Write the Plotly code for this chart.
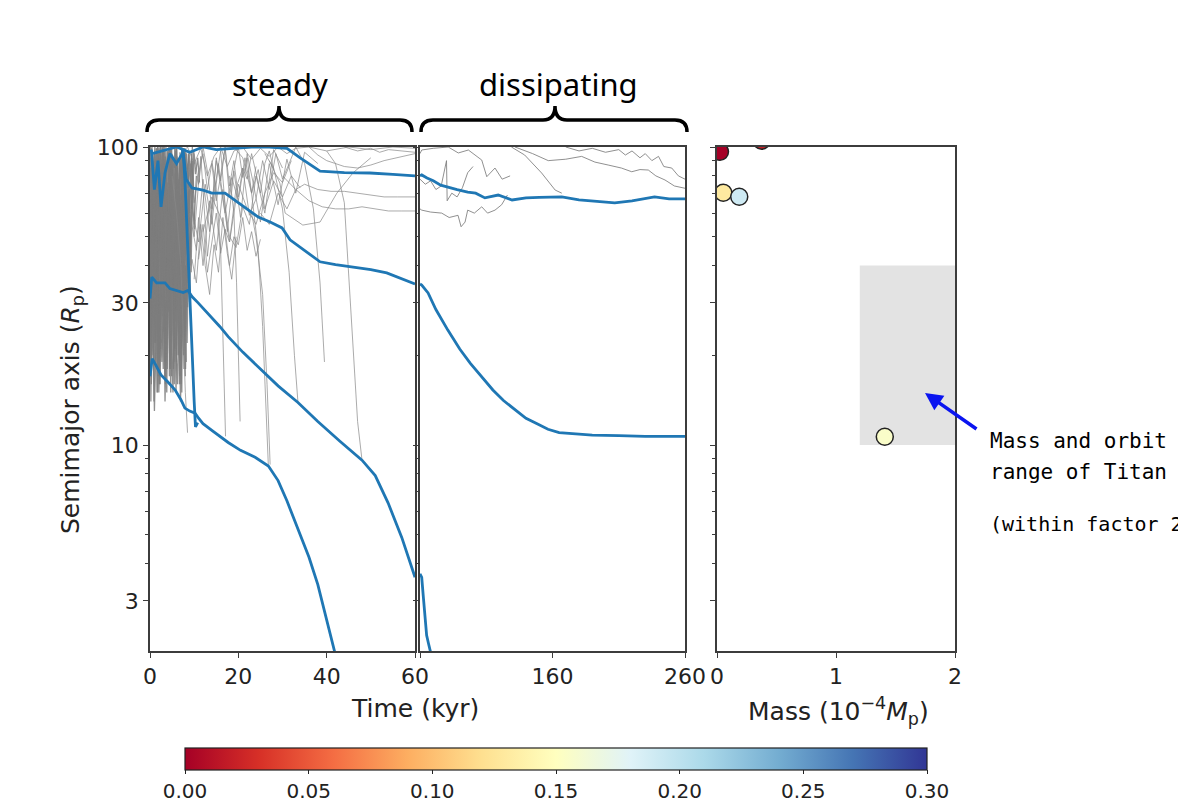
import plotly.graph_objects as go

W, H = 1186, 802
OFF = 8                      # page body margin of the browser
FW, FH = W - OFF, H - OFF    # figure size so that it ends at the window edge

# ---------------- data ----------------
# gray "other satellites" trajectories, steady phase (time kyr, semimajor axis Rp)
SP1_T = [0.0,0.4,0.8,1.1,1.5,1.9,2.2,2.6,3.0,3.3,3.7,4.1,4.4,4.8,5.2,5.5,5.9,6.3,6.6,7.0,7.4,7.7,8.1,8.5,8.8,9.2]
SP1_A = [92,38,85,22,74,17,96,31,66,19,88,44,98,23,61,16,79,36,91,27,57,18,83,41,72,25]
SP2_T = [0.1,0.5,0.9,1.3,1.6,2.0,2.4,2.8,3.1,3.5,3.9,4.3,4.6,5.0,5.4,5.8,6.1,6.5,6.9,7.3,7.6,8.0,8.4,8.8,9.1,9.5]
SP2_A = [55,97,28,81,42,99,21,70,35,93,18,64,48,95,26,87,20,73,39,99,30,68,22,58,47,84]
SP3_T = [0.2,0.6,1.0,1.4,1.7,2.1,2.5,2.9,3.2,3.6,4.0,4.4,4.7,5.1,5.5,5.9,6.2,6.6,7.0,7.4,7.8,8.1,8.5,8.9,9.3,9.7,10.1]
SP3_A = [24,77,46,99,15,62,88,27,100,34,71,17,89,52,24,97,33,64,16,86,45,96,29,75,38,90,53]
SP4_T = [0.0,0.3,0.7,1.0,1.4,1.8,2.1,2.5,2.8,3.2,3.6,3.9,4.3,4.7,5.0,5.4,5.7,6.1,6.5,6.8,7.2,7.5,7.9]
SP4_A = [70,19,94,52,25,83,16,58,99,40,21,76,30,99,43,19,68,92,24,54,15,80,35]
SP5_T = [0.1,0.4,0.7,1.1,1.5,1.8,2.3,2.7,3.0,3.4,3.8,4.2,4.5,4.9,5.3,5.6,6.0,6.4,6.7,7.1,7.5,7.9,8.3,8.6,9.0,9.4,9.8]
SP5_A = [100,60,20,90,33,75,47,100,24,80,56,28,94,37,72,21,99,45,85,29,65,99,50,88,60,95,70]
SP6_T = [0.0,0.5,0.9,1.2,1.7,2.0,2.5,2.9,3.4,3.8,4.1,4.6,5.0,5.3,5.8,6.2,6.5,7.0,7.3,7.8,8.2,8.7,9.0,9.5,10.0,10.5]
SP6_A = [30,66,14,48,100,20,42,86,17,52,96,25,61,18,47,82,20,59,97,23,48,71,40,66,55,80]
SP7_T = [0.0,0.2,0.5,0.8,1.2,1.6,2.0,2.3,2.7,3.1,3.4,3.8,4.2,4.6,4.9,5.3,5.7,6.0,6.4,6.8,7.1,7.5,7.9,8.2,8.6,9.0]
SP7_A = [45,14,36,68,22,55,30,16,44,78,28,15,50,34,17,41,66,19,38,84,21,43,62,30,52,72]
SP8_T = [0.3,0.7,1.1,1.5,1.9,2.3,2.7,3.1,3.5,3.9,4.3,4.7,5.1,5.5,5.9,6.3,6.7,7.1,7.5,7.9,8.3,8.7,9.1,9.5,9.9,10.3,10.8,11.2]
SP8_A = [99,82,100,65,91,100,77,97,60,90,100,70,94,85,100,58,92,78,99,66,95,73,88,62,97,81,92,76]
SP9_T = [0.1,0.3,0.6,0.9,1.3,1.6,1.9,2.3,2.6,3.0,3.3,3.6,4.0,4.3,4.7,5.0,5.4,5.7,6.1,6.4,6.8,7.1,7.5,7.8,8.2]
SP9_A = [62,20,45,90,35,15,58,82,40,18,68,100,32,55,15,84,47,26,93,61,17,44,90,52,19]
SP10_T = [0.0,0.35,0.7,1.05,1.4,1.75,2.1,2.45,2.8,3.15,3.5,3.85,4.2,4.55,4.9,5.25,5.6,5.95,6.3,6.65,7.0,7.35,7.7,8.05,8.4,8.75]
SP10_A = [18,50,26,95,60,30,17,74,44,100,55,23,81,18,66,38,100,28,51,16,69,34,88,18,46,95]
SP11_T = [0.2,0.5,0.8,1.2,1.5,1.8,2.2,2.5,2.9,3.2,3.5,3.9,4.2,4.5,4.9,5.2,5.5,5.9,6.2,6.5,6.9,7.2,7.6,7.9,8.3,8.6,9.0]
SP11_A = [85,27,63,19,40,100,58,22,93,50,16,39,73,26,100,62,30,15,57,78,33,100,41,24,67,35,58]
SP12_T = [0.0,0.4,0.8,1.2,1.6,2.0,2.4,2.8,3.2,3.6,4.0,4.4,4.8,5.2,5.6,6.0,6.4,6.8,7.2,7.6,8.0,8.4]
SP12_A = [40,88,55,32,70,45,100,29,56,76,38,60,22,90,48,71,35,96,58,20,75,42]
SP13_T = [0.1,0.45,0.8,1.15,1.5,1.85,2.2,2.55,2.9,3.25,3.6,3.95,4.3,4.65,5.0,5.35,5.7,6.05,6.4,6.75,7.1,7.45,7.8,8.15,8.5,8.85,9.2,9.6]
SP13_A = [76,100,64,85,99,70,92,58,100,81,66,97,75,100,62,88,72,100,57,93,80,64,99,70,85,96,77,100]
SP14_T = [0.3,0.6,1.0,1.3,1.7,2.0,2.4,2.7,3.1,3.4,3.8,4.1,4.5,4.8,5.2,5.5,5.9,6.2,6.6,6.9,7.3,7.6,8.0]
SP14_A = [16,28,13,22,36,15,25,19,33,14,27,42,18,24,15,31,21,16,26,14,23,35,17]

MA_T = [8,9.5,11,12.5,14,15.5,17,18.5,20,21.5,23,24.5,26,28,30,32,34]
MA_A = [40,62,48,75,55,88,60,79,66,92,70,84,62,77,68,80,73]
MB_T = [9,10,11.5,13,14.5,16,17.5,19,20.5,22,23.5,25,27,29,31,33,35,38]
MB_A = [85,50,93,43,70,97,52,83,58,95,74,56,88,64,91,70,96,88]
MC_T = [10,11,12,13.5,15,16.5,18,19.5,21,22.5,24,26,28,30]
MC_A = [36,58,40,66,45,72,50,46,63,55,80,60,98,85]
MD_T = [7,8.5,10,11.5,13,14.5,16,17.5,19,21,23,25,27,29,31,33,36,40,45,50,55,60]
MD_A = [95,100,88,99,80,93,100,86,97,100,91,99,93,100,95,99,100,97,100,98,100,99]
ME_T = [11,12,13,14,15,16,17,18,19,20,21,22,23,24,25]
ME_A = [42,55,38,48,60,44,53,40,50,47,58,45,52,43,49]
MF_T = [25,27,29,31,33,35,38,41,44,47,50,53,56,60]
MF_A = [60,55,70,62,72,75,72,71,71,70,69,68,68,68]
MG_T = [30,33,36,39,42,45,48,51,54,57,60]
MG_A = [80,72,66,63,62,62,63,62,61,61,61]
MH_T = [27,29.4,30.6,34.6,38.5,42.3,46,50]
MH_A = [90,75.7,60,54.7,56,70,82,92]
MI_T = [36,38,40,42,44,47,50,53,56,60]
MI_A = [100,94,90,88,86,85,87,90,92,95]
MJ_T = [44,47,50,52,54,57,60]
MJ_A = [100,97,99,96,98,97,96]
MK_T = [8,9,10,11,12,13,14,15,16,17,18,19,20,21,22,23,24,25,26,27,28]
MK_A = [70,90,65,82,95,72,88,66,80,100,74,90,68,85,78,95,82,70,88,97,84]
ML_T = [9,10.5,12,13.5,15,16.5,18,19.5,21,22.5,24,25.5,27,28.5,30,31.5,33]
ML_A = [60,45,78,52,92,66,48,73,85,59,67,90,72,95,78,88,100]
MM_T = [10,11,12,13,14,15,16,17,18,19,20,21,22,23,24]
MM_A = [95,75,100,83,62,90,77,99,68,84,100,79,92,70,86]
MN_T = [12,14,16,18,20,22,24,26,28,30,32]
MN_A = [52,68,58,48,75,62,55,70,82,76,90]
MO_T = [8.5,9.5,10.5,11.5,12.5,13.5,14.5,15.5,16.5,17.5,18.5,19.5]
MO_A = [30,42,35,55,40,32,47,38,58,44,36,50]

DA_T = [14,15,16,16.8,17.1]
DA_A = [90,72,45,18,10.7]
DB_T = [19,21,23,24.5,25.5,26.3,26.8]
DB_A = [100,92,70,45,25,13,8.5]
DC_T = [23,24,25.5,26.5,27.2]
DC_A = [60,50,32,16,8.6]
DD_T = [26,28,30,31.5,32.7,33.5]
DD_A = [95,85,62,38,20,13.9]
DE_T = [33,35,37,38.5,39.5]
DE_A = [100,88,62,35,19]
DF_T = [40,42,44,45.7,47,48]
DF_A = [97,88,65,24,12,8.9]
DG_T = [5,6,7,7.5,8,8.5]
DG_A = [80,60,40,25,15,11]
DH_T = [18,19,19.6,20,20.4]
DH_A = [80,60,35,20,12]

# gray trajectories, dissipating phase
P2A_T = [60,61.3,68,76.4,82,88.7,91,94,96,101,106.6,111,116.6,121.6,126]
P2A_A = [62,61.4,60.5,60,58,59,54,56,61.4,60,63,60,61.4,64,69]
P2B_T = [60,61.3,70,81.3,88.9,96.5,106.6,110.4,116.6,122,128]
P2B_A = [95,97.7,99,100,95.5,97.7,90.4,79.5,85,78,80]
P2C_T = [60,64,68,72,76,80,80.5,84,88,92,96,100]
P2C_A = [78,75,77,72,74,90,66,70,68,73,82,86]
P2D_T = [129,139,151.8,162,167]
P2D_A = [100,94,81.8,71.7,70]
P2E_T = [131.7,145,156.8,170,182,192,202,212,219.8,226,232.3,238,244.9,252,260]
P2E_A = [100,95,90,91,93,89,87,85,82.6,84,83.7,80,77.5,74,72.7]
P2F_T = [170,180,190,200,210,215,220,226,230,235,240,244,250,255,260]
P2F_A = [100,97,99,96,98,94,97,92,95,90,93,86,85,80,78]

# blue trajectories (surviving satellites)
B1_T_STEADY = [0.5,3,6,9,12,15,19,23,27,31,34,38.5,44,49.8,55,60]
B1_A_STEADY = [95,97,100,96,100,98,99,100,100,99,92,83,82,81.8,81,80]
B1_T_DISS = [60,61.3,65.3,70,75.6,82,88,96,102,109,119,129.5,140,150,167,180,195,207,220,237,248,260]
B1_A_DISS = [80,80.6,78.7,77,74.5,73,72,70.6,70,67.5,69,66.4,67.5,67.8,68,66.5,65.5,64.9,66,68,67,67]

B2_T_STEADY = [0.3,1,1.8,2.5,3.4,4.5,6,7.5,8.2,9.5,12,14,17,20,24.5,27.2,29.9,31.7,35,38.5,42,46,50,53.6,57,60]
B2_A_STEADY = [98,72,90,63,82,95,88,96,78,72.9,71.7,70,70,64.9,58.2,56,53.5,48.8,45,41.2,40.3,39.6,38.8,37.8,36,34.7]
B2_T_DISS = [60,61.3,66.1,72,81,90,98,106.8,115,123,131.7,140,148,156.6,165,176.9,190,210,230,260]
B2_A_DISS = [34.7,34.4,32.4,28.5,24.3,21,18.8,16.9,15.3,14.1,13.1,12.3,11.8,11.3,11.0,10.9,10.8,10.75,10.7,10.7]

B3_T_STEADY = [0,0.4,1.5,3.4,4.5,6.3,7.5,8.6,9.5,10.9,12.5,14,15.8,17.7,21,25,29,33.5,38,43,48,51,53.9,57,60]
B3_A_STEADY = [31,36.6,35,35,33.5,33,32.5,33,31.5,30,28.3,26.9,25,23.1,20.5,18,15.8,13.9,12,10.3,8.9,7.9,6.4,4.9,3.6]
B3_T_DISS = [60,61.3,62.5,63.8,65,66.5,68.8]
B3_A_DISS = [3.7,3.6,3.1,2.6,2.3,2.15,1.95]

B4_T_STEADY = [0,0.5,1.1,2.5,4,5.7,7,7.9,9,10.2,11,12,14,17.7,20.5,23.8,26.8,29,31,33.5,36,38,40,41.9,42.5]
B4_A_STEADY = [17,19.5,18.8,17.2,16.3,15.3,14.2,13.3,13,12.8,12.3,11.8,11.2,10.2,9.6,9.1,8.5,7.6,6.5,5.2,4.2,3.4,2.6,2.0,1.9]

B5_T_STEADY = [7.3,7.6,7.9,8.2,8.5,8.8,9.1,9.4,9.7,10.0,10.3,10.8]
B5_A_STEADY = [99,92,78,62,50,40,31,24,18,14,11.5,11.9]

# final satellites (right panel)
MASS = [0.025, 0.375, 0.053, 0.187, 1.41]
ORBIT = [96.4, 105, 70.2, 68.1, 10.66]
ECC = [0.0, 0.02, 0.13, 0.19, 0.155]

TITAN_MASS = [1.2, 2.4]
TITAN_ORBIT = [10, 40]

Y_TICKS = [3, 10, 30, 100]
Y_MINOR = [2, 4, 5, 6, 7, 8, 9, 20, 40, 50, 60, 70, 80, 90]
X1_TICKS = [0, 20, 40, 60]
X2_TICKS = [60, 160, 260]
X2_LABELS = ["", "160", "260"]
X3_TICKS = [0, 1, 2]
CB_TICKS = [0.0, 0.05, 0.10, 0.15, 0.20, 0.25, 0.30]

SPRAY_GRAY = [(SP1_T, SP1_A), (SP2_T, SP2_A), (SP3_T, SP3_A), (SP4_T, SP4_A),
              (SP5_T, SP5_A), (SP6_T, SP6_A), (SP7_T, SP7_A), (SP8_T, SP8_A),
              (SP9_T, SP9_A), (SP10_T, SP10_A), (SP11_T, SP11_A), (SP12_T, SP12_A),
              (SP13_T, SP13_A), (SP14_T, SP14_A)]
STEADY_GRAY = [(MA_T, MA_A), (MB_T, MB_A), (MC_T, MC_A), (MD_T, MD_A), (ME_T, ME_A),
               (MF_T, MF_A), (MG_T, MG_A), (MH_T, MH_A), (MI_T, MI_A), (MJ_T, MJ_A),
               (MK_T, MK_A), (ML_T, ML_A), (MM_T, MM_A), (MN_T, MN_A), (MO_T, MO_A),
               (DA_T, DA_A), (DB_T, DB_A), (DC_T, DC_A), (DD_T, DD_A), (DE_T, DE_A),
               (DF_T, DF_A), (DG_T, DG_A), (DH_T, DH_A)]
DISS_GRAY = [(P2A_T, P2A_A), (P2B_T, P2B_A), (P2C_T, P2C_A), (P2D_T, P2D_A),
             (P2E_T, P2E_A), (P2F_T, P2F_A)]
STEADY_BLUE = [(B1_T_STEADY, B1_A_STEADY), (B2_T_STEADY, B2_A_STEADY),
               (B3_T_STEADY, B3_A_STEADY), (B4_T_STEADY, B4_A_STEADY),
               (B5_T_STEADY, B5_A_STEADY)]
DISS_BLUE = [(B1_T_DISS, B1_A_DISS), (B2_T_DISS, B2_A_DISS), (B3_T_DISS, B3_A_DISS)]

# ---------------- styling helpers ----------------
GRAY = "rgba(125,125,125,0.85)"
GRAY_LIGHT = "rgba(135,135,135,0.7)"
BLUE = "#1f77b4"
AX = "#3c3c3c"
FONT = "DejaVu Sans"
MONO = "DejaVu Sans Mono"
TICK_SIZE = 22
LABEL_SIZE = 25


def px(x):
    """screen pixel x -> paper fraction"""
    return (x - OFF) / FW


def py(y):
    """screen pixel y -> paper fraction"""
    return 1 - (y - OFF) / FH


fig = go.Figure()

for t, a in SPRAY_GRAY:
    fig.add_trace(go.Scatter(x=t, y=a, mode="lines", line=dict(color=GRAY, width=1.3),
                             xaxis="x", yaxis="y", hoverinfo="skip", showlegend=False))
for t, a in STEADY_GRAY:
    fig.add_trace(go.Scatter(x=t, y=a, mode="lines", line=dict(color=GRAY_LIGHT, width=1),
                             xaxis="x", yaxis="y", hoverinfo="skip", showlegend=False))
for t, a in DISS_GRAY:
    fig.add_trace(go.Scatter(x=t, y=a, mode="lines", line=dict(color=GRAY, width=1),
                             xaxis="x2", yaxis="y2", hoverinfo="skip", showlegend=False))
for t, a in STEADY_BLUE:
    fig.add_trace(go.Scatter(x=t, y=a, mode="lines", line=dict(color=BLUE, width=2.8),
                             xaxis="x", yaxis="y", hoverinfo="skip", showlegend=False))
for t, a in DISS_BLUE:
    fig.add_trace(go.Scatter(x=t, y=a, mode="lines", line=dict(color=BLUE, width=2.8),
                             xaxis="x2", yaxis="y2", hoverinfo="skip", showlegend=False))

fig.add_trace(go.Scatter(
    x=MASS, y=ORBIT, mode="markers", xaxis="x3", yaxis="y3", showlegend=False,
    cliponaxis=True,
    marker=dict(size=17, color=ECC, colorscale="RdYlBu", cmin=0, cmax=0.3,
                line=dict(color="#222", width=1.5),
                colorbar=dict(orientation="h", thickness=22, thicknessmode="pixels",
                              len=742 / FW, lenmode="fraction",
                              x=px(556), xanchor="center", y=py(748), yanchor="top",
                              xpad=0, ypad=0, outlinewidth=1.2, outlinecolor="#222",
                              tickvals=CB_TICKS, tickformat=".2f", ticks="outside",
                              ticklen=4, tickcolor="#222",
                              tickfont=dict(family=FONT, size=20, color="#222"))),
))

# Titan range rectangle
fig.add_shape(type="rect", xref="x3", yref="y3", x0=TITAN_MASS[0], x1=TITAN_MASS[1],
              y0=TITAN_ORBIT[0], y1=TITAN_ORBIT[1],
              fillcolor="#e3e3e3", line=dict(width=0), layer="below")

ydom = [py(651), py(147)]
common_axis = dict(showline=True, linecolor=AX, linewidth=1.5, mirror=True,
                   ticks="outside", ticklen=5, tickwidth=1.2, tickcolor=AX,
                   showgrid=False, zeroline=False,
                   tickfont=dict(family=FONT, size=TICK_SIZE, color="#222"))
yax = dict(type="log", range=[0.309, 2.0], domain=ydom, tickvals=Y_TICKS,
           ticktext=[str(v) for v in Y_TICKS],
           minor=dict(tickvals=Y_MINOR, ticks="outside", ticklen=3, tickcolor=AX, showgrid=False))

fig.update_layout(
    width=FW, height=FH, margin=dict(l=0, r=0, t=0, b=0, autoexpand=False),
    plot_bgcolor="white", paper_bgcolor="white",
    xaxis=dict(domain=[px(150), px(415)], range=[0, 60], anchor="y",
               tickvals=X1_TICKS, **common_axis),
    xaxis2=dict(domain=[px(420), px(685)], range=[60, 260], anchor="y2",
                tickvals=X2_TICKS, ticktext=X2_LABELS, **common_axis),
    xaxis3=dict(domain=[px(717), px(955)], range=[0, 2], anchor="y3",
                tickvals=X3_TICKS, **common_axis),
    yaxis=dict(anchor="x", **yax, **common_axis),
    yaxis2=dict(anchor="x2", matches="y", **{**yax, "ticktext": [""] * 4}, **common_axis),
    yaxis3=dict(anchor="x3", matches="y", **{**yax, "ticktext": [""] * 4}, **common_axis),
)


def brace(x0, x1, xm, ybase=132, yline=120, ytip=106, r=12):
    def P(x, y):
        return f"{px(x):.5f},{py(y):.5f}"
    pts = [f"M {P(x0, ybase)}",
           f"Q {P(x0, yline)} {P(x0 + r, yline)}",
           f"L {P(xm - r, yline)}",
           f"Q {P(xm, yline)} {P(xm, ytip)}",
           f"Q {P(xm, yline)} {P(xm + r, yline)}",
           f"L {P(x1 - r, yline)}",
           f"Q {P(x1, yline)} {P(x1, ybase)}"]
    return " ".join(pts)


for (a0, a1, am) in [(147, 412, 279), (421, 687, 555)]:
    fig.add_shape(type="path", xref="paper", yref="paper", path=brace(a0, a1, am),
                  line=dict(color="black", width=3.5))


def note(text, x, y, size, family=FONT, xanchor="center", angle=0, color="#222"):
    return dict(text=text, x=px(x), y=py(y), xref="paper", yref="paper",
                xanchor=xanchor, yanchor="middle", textangle=angle, showarrow=False,
                font=dict(family=family, size=size, color=color))


ann = [
    note("steady", 280, 84, 31, family="Noto Sans", color="black"),
    note("dissipating", 558, 84, 31, family="Noto Sans", color="black"),
    note("Semimajor axis (<i>R</i><sub>p</sub>)", 72, 410, LABEL_SIZE, angle=-90),
    note("Time (kyr)", 415, 708, LABEL_SIZE),
    note("Mass (10<sup>−4</sup><i>M</i><sub>p</sub>)", 838, 711, LABEL_SIZE),
    note("Mass and orbit", 988, 441, 21, family=MONO, xanchor="left", color="black"),
    note("range of Titan", 988, 472, 21, family=MONO, xanchor="left", color="black"),
    note("(within factor 2)", 988, 524, 20, family=MONO, xanchor="left", color="black"),
    dict(text="", x=px(925), y=py(393), xref="paper", yref="paper",
         showarrow=True, ax=53, ay=37, arrowhead=2, arrowsize=1,
         arrowwidth=3.5, arrowcolor="#0a14f0", standoff=0),
]
fig.update_layout(annotations=ann)

fig.write_html("out.html")
